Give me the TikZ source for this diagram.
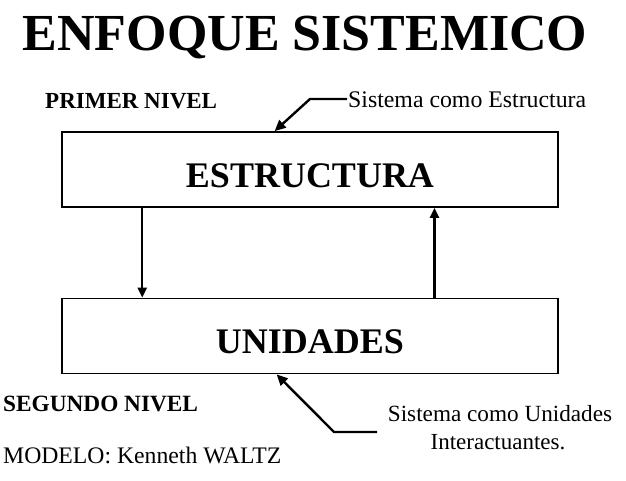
\documentclass[tikz,border=0pt]{standalone}
\usepackage{fontspec}
\setmainfont{Liberation Serif}
\usetikzlibrary{arrows.meta,calc}
\begin{document}
\begin{tikzpicture}[x=1pt,y=-1pt,
  lbl/.style={inner sep=0pt,anchor=base west},
  boxnode/.style={draw,line width=1.8pt,minimum width=496pt,minimum height=75pt,inner sep=0pt,text height=35pt,text depth=0pt,font=\fontsize{36}{36}\selectfont\bfseries},
  conn/.style={line width=2.4pt,-{Triangle[length=10pt,width=9pt]}},
  ptr/.style={line width=2.4pt,-{Triangle[length=11pt,width=10pt]}}]
\useasboundingbox (0,0) rectangle (626,480);
\node[inner sep=0pt,anchor=base] (title) at (305,50) {\fontsize{52}{52}\selectfont\bfseries ENFOQUE SISTEMICO};
\node[lbl] (n1) at (45,108) {\fontsize{23}{23}\selectfont\bfseries PRIMER NIVEL};
\node[lbl] (s1) at (348,107) {\fontsize{23.8}{23.8}\selectfont Sistema como Estructura};
\node[boxnode] (est) at (310,169.5) {ESTRUCTURA};
\node[boxnode] (unid) at (310,336) {UNIDADES};
\node[lbl] (n2) at (3,411) {\fontsize{23.3}{23.3}\selectfont\bfseries SEGUNDO NIVEL};
\node[lbl] (mod) at (3,463) {\fontsize{23.7}{23.7}\selectfont MODELO: Kenneth WALTZ};
\node[inner sep=0pt,anchor=base] (s2) at (500,421) {\fontsize{23.2}{23.2}\selectfont Sistema como Unidades};
\node[inner sep=0pt,anchor=base] (s3) at (498,449) {\fontsize{23}{23}\selectfont Interactuantes.};
\draw[conn] ($(est.south west)!0.163!(est.south east)$) -- ($(unid.north west)!0.163!(unid.north east)$);
\draw[conn] ($(unid.north west)!0.75!(unid.north east)$) -- ($(est.south west)!0.75!(est.south east)$);
\coordinate (p1) at (347,99);
\coordinate (k1) at (310,99);
\draw[ptr] (p1) -- (k1) -- ($(est.north west)!0.429!(est.north east)$);
\coordinate (p2) at (377,432);
\coordinate (k2) at (334,432);
\draw[ptr] (p2) -- (k2) -- ($(unid.south west)!0.433!(unid.south east)$);
\end{tikzpicture}
\end{document}
